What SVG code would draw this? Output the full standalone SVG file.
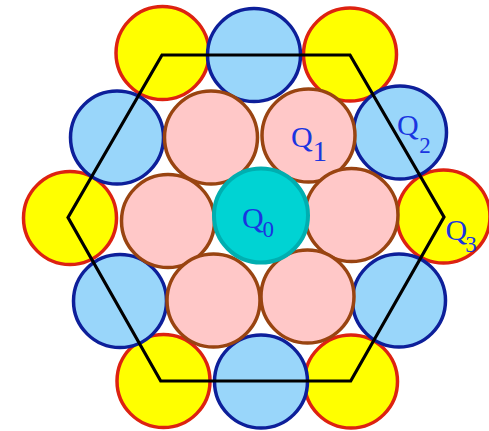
<svg xmlns="http://www.w3.org/2000/svg" width="489" height="431" viewBox="0 0 489 431">
<style>
.y{fill:#FFFF00;stroke:#DD2211;stroke-width:3.5}
.b{fill:#99D6FA;stroke:#0D1F9A;stroke-width:3.5}
.p{fill:#FFC8C8;stroke:#994411;stroke-width:3.5}
.c{fill:#00D3D3;stroke:#00AEB0;stroke-width:4}
.q{font-family:"Liberation Serif","Times New Roman",serif;fill:#1A35E0}
.hex{fill:none;stroke:#000;stroke-width:3.2;stroke-linejoin:miter}
</style>
<rect width="489" height="431" fill="#fff"/>
<g id="yellow">
<circle class="y" cx="162.5" cy="53" r="46.5"/>
<circle class="y" cx="350" cy="54.5" r="46.5"/>
<circle class="y" cx="70" cy="218" r="46.5"/>
<circle id="Q3" class="y" cx="443.5" cy="216.5" r="46.5"/>
<circle class="y" cx="163.5" cy="381" r="46.5"/>
<circle class="y" cx="351" cy="381.5" r="46.5"/>
</g>
<g id="blue">
<circle class="b" cx="254" cy="55" r="46.5"/>
<circle class="b" cx="117" cy="137.5" r="46.5"/>
<circle id="Q2" class="b" cx="400" cy="132.5" r="46.5"/>
<circle class="b" cx="120" cy="301" r="46.5"/>
<circle class="b" cx="399" cy="300.5" r="46.5"/>
<circle class="b" cx="261" cy="381.5" r="46.5"/>
</g>
<g id="pink">
<circle class="p" cx="211" cy="137.5" r="46.5"/>
<circle id="Q1" class="p" cx="308.5" cy="135.5" r="46.5"/>
<circle class="p" cx="168" cy="221" r="46.5"/>
<circle class="p" cx="351.5" cy="215" r="46.5"/>
<circle class="p" cx="213.5" cy="300.5" r="46.5"/>
<circle class="p" cx="307.5" cy="296.5" r="46.5"/>
</g>
<g id="Q0">
<circle class="c" cx="261" cy="215.5" r="47"/>
</g>
<g id="connectors">
<polygon class="hex" points="68,217.5 162,55 350,55 444,217 350.7,381 160.7,381"/>
</g>
<g id="labels">
<text class="q" x="242" y="228" font-size="30">Q</text><text class="q" x="262.5" y="237" font-size="23">0</text>
<text class="q" x="291" y="146.5" font-size="30">Q</text><text class="q" x="312.5" y="160.5" font-size="29">1</text>
<text class="q" x="397" y="135" font-size="30">Q</text><text class="q" x="419.3" y="153" font-size="23">2</text>
<text class="q" x="445.5" y="240" font-size="30">Q</text><text class="q" x="465.3" y="251.5" font-size="23">3</text>
</g>
</svg>
